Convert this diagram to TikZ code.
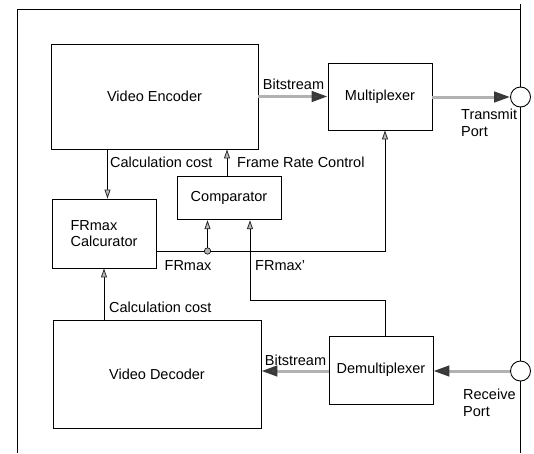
\documentclass[tikz,border=0pt]{standalone}
\usepackage{fontspec}
\setmainfont{Liberation Sans}
\usetikzlibrary{arrows.meta}
\tikzset{
  blk/.style={draw, line width=0.9pt, inner sep=0pt, align=center},
  lbl/.style={inner sep=0pt},
  sig/.style={line width=0.8pt, -{Triangle[length=9pt,width=6pt,fill=gray!50,color=black!85]}},
  bits/.style={line width=3pt, draw=gray!60, -{Triangle[length=16pt,width=10.5pt,fill=gray!55!black,color=gray!45!black]}},
  port/.style={draw, line width=0.9pt, circle, minimum size=20pt, inner sep=0pt}
}
\begin{document}
\begin{tikzpicture}[x=1pt, y=-1pt, font=\fontsize{14.5}{16.5}\selectfont]
    \useasboundingbox (0,0) rectangle (534,453);
    % --- Blocks ---
    \node[blk, minimum width=207pt, minimum height=105pt] (enc) at (154.5,96.5) {Video Encoder};
    \node[blk, minimum width=104pt, minimum height=67pt] (mux) at (380,96.5) {Multiplexer};
    \node[blk, minimum width=104pt, minimum height=43.5pt] (comp) at (229,198) {Comparator};
    \node[blk, minimum width=104pt, minimum height=69pt, align=left] (calc) at (104,233.5) {FRmax\\Calcurator};
    \node[blk, minimum width=208pt, minimum height=108pt] (dec) at (157,374) {Video Decoder};
    \node[blk, minimum width=104pt, minimum height=68pt] (demux) at (381,370) {Demultiplexer};
    % --- Ports on the frame ---
    \node[port] (tx) at (520.5,97) {};
    \node[port] (rx) at (520.5,371) {};

    % Frame
    \draw[line width=0.8pt] (17,453) -- (17,9) -- (520.5,9);
    \draw[line width=0.8pt] (520.5,4) -- (tx.north);
    \draw[line width=0.8pt] (tx.south) -- (rx.north);
    \draw[line width=0.8pt] (rx.south) -- (520.5,453);

    % --- Bitstreams ---
    \draw[bits] (enc.east) -- (enc.east -| mux.west);
    \draw[bits] (mux.east |- tx) -- (tx.west);
    \draw[bits] (rx.west) -- (rx -| demux.east);
    \draw[bits] (demux.west |- 0,371) -- (dec.east |- 0,371);
    \node[lbl] (bs1) at (293.5,84) {Bitstream};
    \node[lbl] (bs2) at (295.5,360) {Bitstream};
    \node[lbl, align=left, anchor=west] (txl) at (461,123) {Transmit\\Port};
    \node[lbl, align=left, anchor=west] (rxl) at (463,403) {Receive\\Port};

    % --- Control signals ---
    \coordinate (jn) at (207.5,251);
    \coordinate (up) at (385,251);
    \coordinate (kp) at (385,300);
    \coordinate (bend) at (250,300);
    \draw[sig] ([xshift=3.5pt]calc.north |- enc.south) -- ([xshift=3.5pt]calc.north);
    \draw[sig] ([xshift=-2pt]comp.north) -- ([xshift=-2pt]comp.north |- enc.south);
    \draw[sig] (calc.east |- jn) -- (up) -- (up |- mux.south);
    \draw[sig] (jn) -- (jn |- comp.south);
    \draw[sig] (kp |- demux.north) -- (kp) -- (bend) -- (bend |- comp.south);
    \draw[sig] (calc.south |- dec.north) -- (calc.south);
    \filldraw[fill=gray!60, line width=0.6pt] (jn) circle (3.2pt);

    \node[lbl, anchor=west] (cc1) at (110,162) {Calculation cost};
    \node[lbl, anchor=west] (frc) at (237,162) {Frame Rate Control};
    \node[lbl] (frm) at (188,266) {FRmax};
    \node[lbl, anchor=west] (frm2) at (255,266) {FRmax'};
    \node[lbl, anchor=west] (cc2) at (109,307) {Calculation cost};
\end{tikzpicture}
\end{document}
